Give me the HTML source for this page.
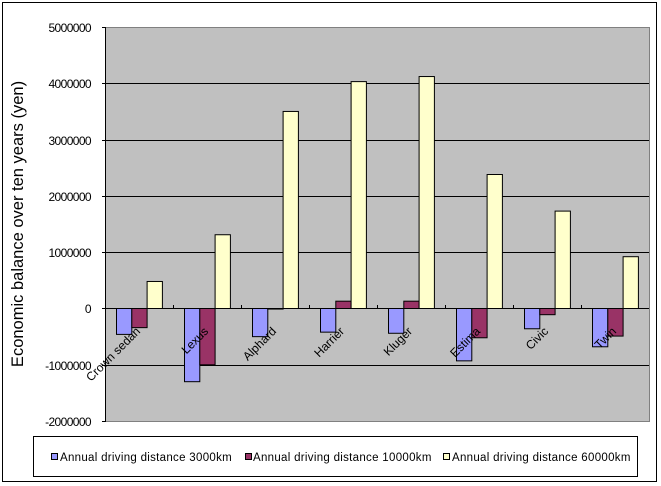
<!DOCTYPE html>
<html><head><meta charset="utf-8"><style>
html,body{margin:0;padding:0;background:#fff;}
svg{display:block;font-family:"Liberation Sans","Noto Sans CJK JP",sans-serif;}
</style></head><body>
<svg width="661" height="486" viewBox="0 0 661 486" xmlns="http://www.w3.org/2000/svg">
<rect x="2.5" y="2.5" width="654" height="479" fill="#fff" stroke="#000" stroke-width="1"/>
<rect x="105.5" y="27.5" width="544" height="394" fill="#c0c0c0" stroke="#808080" stroke-width="1"/>
<g stroke="#000" stroke-width="1">
<line x1="105" y1="83.5" x2="649" y2="83.5"/>
<line x1="105" y1="140.5" x2="649" y2="140.5"/>
<line x1="105" y1="196.5" x2="649" y2="196.5"/>
<line x1="105" y1="252.5" x2="649" y2="252.5"/>
<line x1="105" y1="365.5" x2="649" y2="365.5"/>
<line x1="105.5" y1="27" x2="105.5" y2="422"/>
<line x1="102" y1="27.5" x2="105" y2="27.5"/>
<line x1="102" y1="83.5" x2="105" y2="83.5"/>
<line x1="102" y1="140.5" x2="105" y2="140.5"/>
<line x1="102" y1="196.5" x2="105" y2="196.5"/>
<line x1="102" y1="252.5" x2="105" y2="252.5"/>
<line x1="102" y1="308.5" x2="105" y2="308.5"/>
<line x1="102" y1="365.5" x2="105" y2="365.5"/>
<line x1="102" y1="421.5" x2="105" y2="421.5"/>
</g>
<g font-size="12" text-anchor="end" fill="#000" letter-spacing="-0.6">
<text x="91" y="32">5000000</text>
<text x="91" y="88">4000000</text>
<text x="91" y="145">3000000</text>
<text x="91" y="201">2000000</text>
<text x="91" y="257">1000000</text>
<text x="91" y="313">0</text>
<text x="91" y="370">-1000000</text>
<text x="91" y="426">-2000000</text>
</g>
<text transform="translate(23,224) rotate(-90)" font-size="16.5" text-anchor="middle">Economic balance over ten years (yen)</text>
<g id="bars" stroke="#000" stroke-width="1"></g>
<g stroke="#000" stroke-width="1">
<line x1="105" y1="308.5" x2="649" y2="308.5"/>
</g>
<g id="ticks" stroke="#000" stroke-width="1"></g>
<g id="labels" font-size="12" fill="#000"></g>
<rect x="33.5" y="436.5" width="604" height="40" fill="#fff" stroke="#000" stroke-width="1"/>
<g font-size="11.5" letter-spacing="0.3">
<rect x="51.5" y="453.5" width="6" height="6" fill="#9999ff" stroke="#000"/>
<text x="60" y="461">Annual driving distance 3000km</text>
<rect x="245.5" y="453.5" width="6" height="6" fill="#993366" stroke="#000"/>
<text x="253" y="461">Annual driving distance 10000km</text>
<rect x="443.5" y="453.5" width="6" height="6" fill="#ffffcc" stroke="#000"/>
<text x="452" y="461">Annual driving distance 60000km</text>
</g>
<script>
var d=[["Crown sedan",-0.46,-0.34,0.48],["Lexus",-1.3,-1.0,1.31],["Alphard",-0.5,-0.01,3.5],["Harrier",-0.42,0.13,4.03],["Kluger",-0.44,0.13,4.12],["Estima",-0.93,-0.52,2.38],["Civic",-0.36,-0.11,1.73],["Twin",-0.68,-0.49,0.92]];
var cols=["#9999ff","#993366","#ffffcc"],ns="http://www.w3.org/2000/svg";
var B=document.getElementById("bars"),T=document.getElementById("ticks"),L=document.getElementById("labels");
function el(p,t,a){var e=document.createElementNS(ns,t);for(var k in a)e.setAttribute(k,a[k]);p.appendChild(e);return e;}
d.forEach(function(r,i){var x0=105+68*i+11;
for(var j=0;j<3;j++){var v=r[j+1],y=308.5-v*56.3,top=Math.min(y,308.5),h=Math.abs(y-308.5);
el(B,"rect",{x:x0+j*15.3+0.5,y:top,width:15.3,height:h,fill:cols[j]});}
if(i>0)el(T,"line",{x1:105+68*i+0.5,y1:305,x2:105+68*i+0.5,y2:309});
var t=el(L,"text",{transform:"translate("+(x0+25)+",332) rotate(-45)","text-anchor":"end"});t.textContent=r[0];});
</script>
</svg>
</body></html>
